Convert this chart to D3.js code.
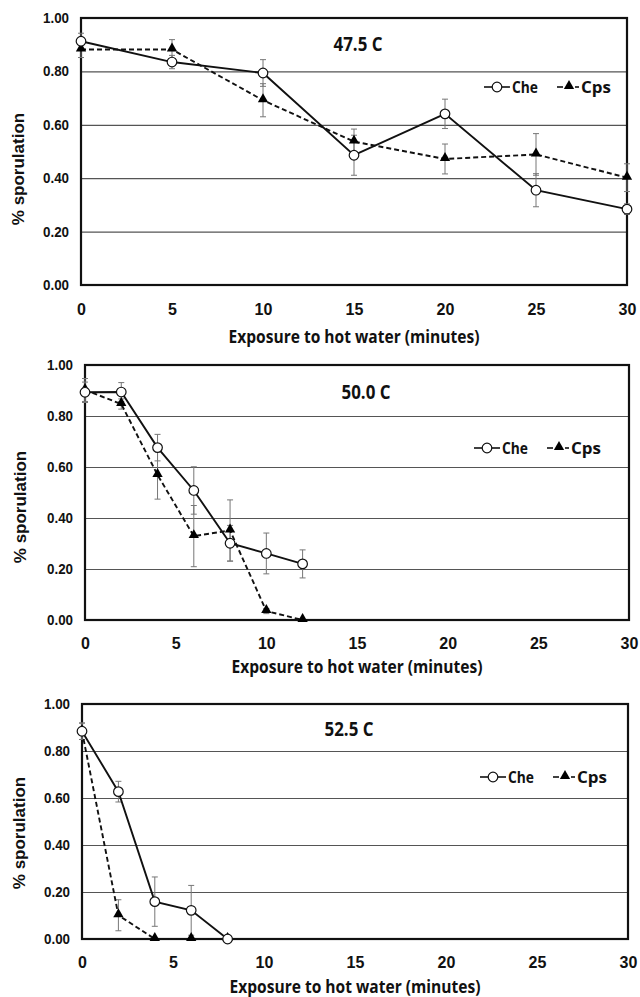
<!DOCTYPE html>
<html>
<head>
<meta charset="utf-8">
<style>
  body { margin: 0; background: #fff; }
  svg { display: block; }
  .tick text { font-family: "Liberation Sans", Arial, sans-serif; font-weight: bold; fill: #111; }
  .ylab { font-family: "Liberation Sans", Arial, sans-serif; font-weight: bold; font-size: 17px; fill: #111; }
  .cal { font-family: "Open Sans", "Liberation Sans", sans-serif; font-weight: bold; fill: #111; }
</style>
</head>
<body>
<svg id="svg" width="640" height="997"></svg>
<script src="https://d3js.org/d3.v7.min.js"></script>
<script>
// ----------------------------------------------------------------------------
//                                DATA
// ----------------------------------------------------------------------------
var temps = ["47.5 C", "50.0 C", "52.5 C"];
var xTicks = [0, 5, 10, 15, 20, 25, 30];
var yTicks = [0, 0.2, 0.4, 0.6, 0.8, 1.0];

// 47.5 C
var min475 = [0, 5, 10, 15, 20, 25, 30];
var che475 = [0.913, 0.835, 0.794, 0.486, 0.641, 0.355, 0.284];
var cheErr475 = [0.03, 0.025, 0.05, 0.075, 0.055, 0.062, 0.02];
var cps475 = [0.882, 0.882, 0.692, 0.537, 0.472, 0.489, 0.402];
var cpsErr475 = [0.03, 0.037, 0.062, 0.047, 0.056, 0.078, 0.052];

// 50.0 C
var min500 = [0, 2, 4, 6, 8, 10, 12];
var che500 = [0.893, 0.894, 0.676, 0.508, 0.301, 0.261, 0.22];
var cheErr500 = [0.04, 0.037, 0.052, 0.093, 0.07, 0.08, 0.055];
var cps500 = [0.902, 0.847, 0.569, 0.329, 0.351, 0.035, 0.0];
var cpsErr500 = [0.045, 0.02, 0.095, 0.12, 0.12, 0.01, 0.0];

// 52.5 C
var min525 = [0, 2, 4, 6, 8];
var che525 = [0.884, 0.627, 0.159, 0.122, 0.0];
var cheErr525 = [0.035, 0.044, 0.105, 0.106, 0.0];
var cps525 = [0.884, 0.101, 0.0, 0.0, 0.0];
var cpsErr525 = [0.035, 0.066, 0.0, 0.0, 0.0];

// ----------------------------------------------------------------------------
//                               LAYOUT
// ----------------------------------------------------------------------------
var panels = [
  { x: min475, che: che475, cheErr: cheErr475, cps: cps475, cpsErr: cpsErr475,
    left: 81, right: 627, top: 18, bottom: 285, xtickY: 315, xtitleY: 343, ytitleX: 18,
    ytitleY: 169, titleX: 358, titleY: 51, legX: 484, legY: 87 },
  { x: min500, che: che500, cheErr: cheErr500, cps: cps500, cpsErr: cpsErr500,
    left: 85, right: 629, top: 365, bottom: 620, xtickY: 649, xtitleY: 673, ytitleX: 20,
    ytitleY: 507, titleX: 366, titleY: 399, legX: 474, legY: 448 },
  { x: min525, che: che525, cheErr: cheErr525, cps: cps525, cpsErr: cpsErr525,
    left: 82, right: 628, top: 704, bottom: 939, xtickY: 968, xtitleY: 993, ytitleX: 19,
    ytitleY: 833, titleX: 349, titleY: 736, legX: 480, legY: 777 }
];

var svg = d3.select("#svg");
var tri = d3.symbol().type(d3.symbolTriangle).size(46);

function drawPanel(p, i) {
  var x = d3.scaleLinear().domain([0, 30]).range([p.left, p.right]);
  var y = d3.scaleLinear().domain([0, 1]).range([p.bottom, p.top]);
  var g = svg.append("g");

  // Gridlines
  g.append("g")
    .attr("transform", "translate(" + p.left + ",0)")
    .call(d3.axisLeft(y).tickValues(yTicks.slice(1, -1)).tickSize(-(p.right - p.left)).tickFormat(""))
    .call(function(s) { s.select(".domain").remove(); })
    .selectAll("line").attr("stroke", "#555").attr("stroke-width", 1.2);

  // Y tick labels
  g.append("g")
    .attr("transform", "translate(" + p.left + ",0)")
    .call(d3.axisLeft(y).tickValues(yTicks).tickSize(0).tickPadding(12).tickFormat(d3.format(".2f")))
    .call(function(s) { s.select(".domain").remove(); })
    .selectAll("text").style("font-size", "14px").attr("textLength", 26).attr("lengthAdjust", "spacingAndGlyphs");

  // X tick labels
  g.append("g")
    .attr("transform", "translate(0," + p.bottom + ")")
    .call(d3.axisBottom(x).tickValues(xTicks).tickSize(0).tickPadding(0).tickFormat(d3.format("d")))
    .call(function(s) { s.select(".domain").remove(); })
    .selectAll("text").attr("dy", null).attr("y", p.xtickY - p.bottom).style("font-size", "16px");

  // Frame
  g.append("rect")
    .attr("x", p.left).attr("y", p.top)
    .attr("width", p.right - p.left).attr("height", p.bottom - p.top)
    .attr("fill", "none").attr("stroke", "#111").attr("stroke-width", 2.2);

  // Axis titles
  g.append("text").attr("class", "cal")
    .attr("x", (p.left + p.right) / 2).attr("y", p.xtitleY)
    .attr("text-anchor", "middle").style("font-size", "18px")
    .attr("textLength", 251).attr("lengthAdjust", "spacingAndGlyphs")
    .text("Exposure to hot water (minutes)");
  g.append("text").attr("class", "ylab")
    .attr("transform", "translate(" + (p.ytitleX + 6) + "," + p.ytitleY + ") rotate(-90)")
    .attr("text-anchor", "middle")
    .text("% sporulation");

  // Panel title
  g.append("text").attr("class", "cal")
    .attr("x", p.titleX).attr("y", p.titleY)
    .attr("text-anchor", "middle").style("font-size", "19px")
    .attr("textLength", 49).attr("lengthAdjust", "spacingAndGlyphs")
    .text(temps[i]);

  var series = [
    { v: p.che, e: p.cheErr, dash: null },
    { v: p.cps, e: p.cpsErr, dash: "5,3" }
  ];

  // Error bars
  series.forEach(function(s) {
    var eb = g.append("g").attr("stroke", "#777").attr("stroke-width", 1);
    p.x.forEach(function(m, k) {
      if (s.e[k] <= 0) return;
      var cx = x(m), y0 = y(s.v[k] - s.e[k]), y1 = y(s.v[k] + s.e[k]);
      eb.append("line").attr("x1", cx).attr("x2", cx).attr("y1", y0).attr("y2", y1);
      eb.append("line").attr("x1", cx - 3).attr("x2", cx + 3).attr("y1", y0).attr("y2", y0);
      eb.append("line").attr("x1", cx - 3).attr("x2", cx + 3).attr("y1", y1).attr("y2", y1);
    });
  });

  // Lines
  series.forEach(function(s) {
    var line = d3.line().x(function(d, k) { return x(p.x[k]); }).y(function(d) { return y(d); });
    g.append("path").datum(s.v)
      .attr("d", line).attr("fill", "none").attr("stroke", "#111")
      .attr("stroke-width", 1.9).attr("stroke-dasharray", s.dash);
  });

  // Markers (Cps first, Che on top)
  g.selectAll(".tri").data(p.cps).enter().append("path")
    .attr("d", tri)
    .attr("transform", function(d, k) { return "translate(" + x(p.x[k]) + "," + (y(d) - 1) + ")"; })
    .attr("fill", "#000");
  g.selectAll(".circ").data(p.che).enter().append("circle")
    .attr("cx", function(d, k) { return x(p.x[k]); })
    .attr("cy", function(d) { return y(d); })
    .attr("r", 4.8).attr("fill", "#fff").attr("stroke", "#111").attr("stroke-width", 1.2);

  // Legend
  var lg = g.append("g").attr("transform", "translate(" + p.legX + "," + p.legY + ")");
  lg.append("line").attr("x1", 0).attr("x2", 26).attr("stroke", "#111").attr("stroke-width", 1.6);
  lg.append("circle").attr("cx", 13).attr("r", 4.8).attr("fill", "#fff").attr("stroke", "#111").attr("stroke-width", 1.2);
  lg.append("text").attr("class", "cal").attr("x", 28).attr("y", 6)
    .style("font-size", "16px").attr("textLength", 26).attr("lengthAdjust", "spacingAndGlyphs").text("Che");
  lg.append("line").attr("x1", 73).attr("x2", 79).attr("stroke", "#111").attr("stroke-width", 1.6);
  lg.append("path").attr("d", tri).attr("transform", "translate(85,-1)").attr("fill", "#000");
  lg.append("line").attr("x1", 91).attr("x2", 95).attr("stroke", "#111").attr("stroke-width", 1.6);
  lg.append("text").attr("class", "cal").attr("x", 97).attr("y", 6)
    .style("font-size", "16px").attr("textLength", 30).attr("lengthAdjust", "spacingAndGlyphs").text("Cps");
}

panels.forEach(drawPanel);
</script>
</body>
</html>
